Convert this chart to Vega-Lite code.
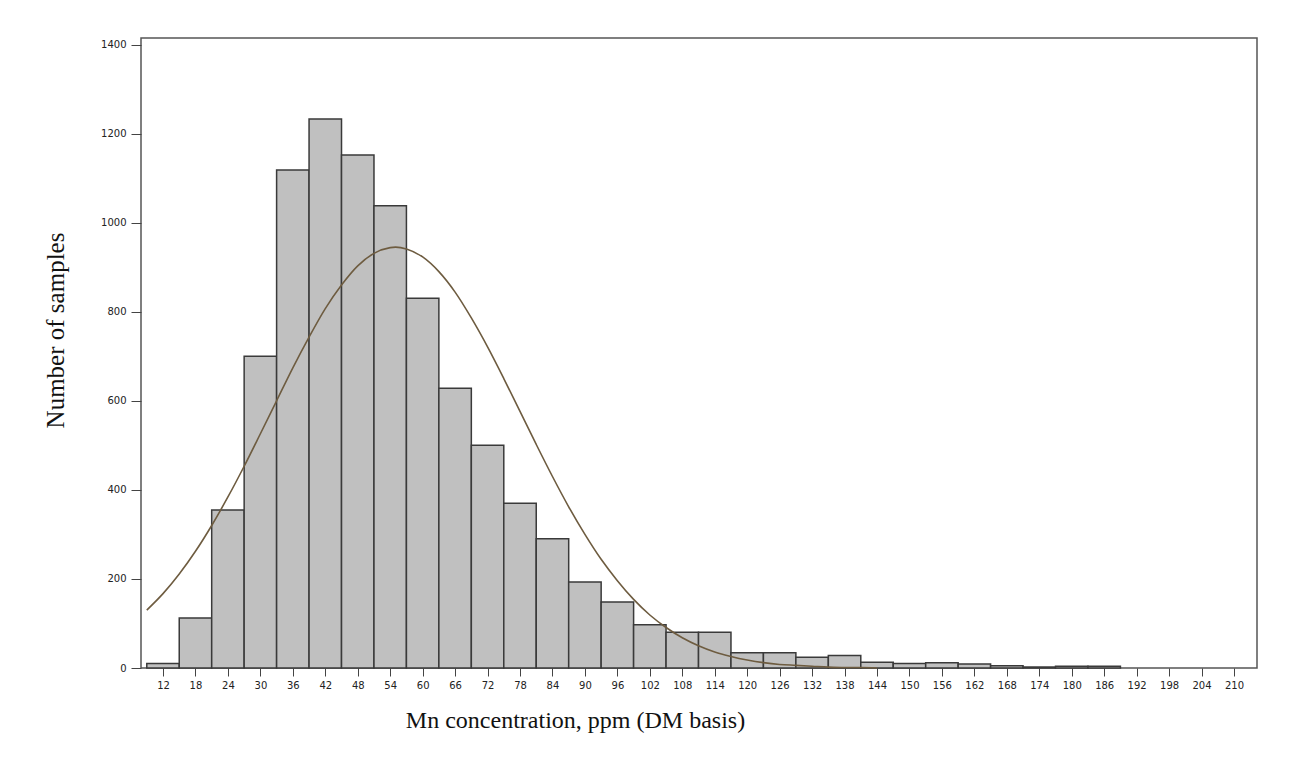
{
  "$schema": "https://vega.github.io/schema/vega-lite/v6.json",
  "width": 1116,
  "height": 630,
  "autosize": {"type": "none"},
  "padding": {"left": 141, "top": 38, "right": 46, "bottom": 98},
  "background": "white",
  "config": {
    "view": {"stroke": "#555555", "strokeWidth": 1.5},
    "axis": {
      "labelFont": "DejaVu Sans",
      "labelFontSize": 10,
      "labelColor": "#222222",
      "labelOverlap": false,
      "labelSeparation": 0,
      "tickColor": "#444444",
      "domainColor": "#555555",
      "grid": false,
      "titleFont": "Liberation Serif",
      "titleFontWeight": "normal",
      "titleColor": "#111111"
    }
  },
  "datasets": {
    "bars": [
      {"bin_start": 9, "bin_end": 15, "count": 10},
      {"bin_start": 15, "bin_end": 21, "count": 112},
      {"bin_start": 21, "bin_end": 27, "count": 355},
      {"bin_start": 27, "bin_end": 33, "count": 700},
      {"bin_start": 33, "bin_end": 39, "count": 1118},
      {"bin_start": 39, "bin_end": 45, "count": 1233},
      {"bin_start": 45, "bin_end": 51, "count": 1152},
      {"bin_start": 51, "bin_end": 57, "count": 1038},
      {"bin_start": 57, "bin_end": 63, "count": 830},
      {"bin_start": 63, "bin_end": 69, "count": 628},
      {"bin_start": 69, "bin_end": 75, "count": 500},
      {"bin_start": 75, "bin_end": 81, "count": 370},
      {"bin_start": 81, "bin_end": 87, "count": 290},
      {"bin_start": 87, "bin_end": 93, "count": 193},
      {"bin_start": 93, "bin_end": 99, "count": 148},
      {"bin_start": 99, "bin_end": 105, "count": 97},
      {"bin_start": 105, "bin_end": 111, "count": 80},
      {"bin_start": 111, "bin_end": 117, "count": 80},
      {"bin_start": 117, "bin_end": 123, "count": 34},
      {"bin_start": 123, "bin_end": 129, "count": 34},
      {"bin_start": 129, "bin_end": 135, "count": 24},
      {"bin_start": 135, "bin_end": 141, "count": 28},
      {"bin_start": 141, "bin_end": 147, "count": 13},
      {"bin_start": 147, "bin_end": 153, "count": 10},
      {"bin_start": 153, "bin_end": 159, "count": 12},
      {"bin_start": 159, "bin_end": 165, "count": 9},
      {"bin_start": 165, "bin_end": 171, "count": 5},
      {"bin_start": 171, "bin_end": 177, "count": 2},
      {"bin_start": 177, "bin_end": 183, "count": 4},
      {"bin_start": 183, "bin_end": 189, "count": 4}
    ],
    "curve": [
      {"x": 9, "y": 130}, {"x": 12, "y": 167}, {"x": 15, "y": 211}, {"x": 18, "y": 262},
      {"x": 21, "y": 320}, {"x": 24, "y": 384}, {"x": 27, "y": 453}, {"x": 30, "y": 526},
      {"x": 33, "y": 600}, {"x": 36, "y": 674}, {"x": 39, "y": 743}, {"x": 42, "y": 807},
      {"x": 45, "y": 860}, {"x": 48, "y": 903}, {"x": 51, "y": 931}, {"x": 54, "y": 944},
      {"x": 55, "y": 945}, {"x": 57, "y": 941}, {"x": 60, "y": 923}, {"x": 63, "y": 890},
      {"x": 66, "y": 844}, {"x": 69, "y": 786}, {"x": 72, "y": 721}, {"x": 75, "y": 650},
      {"x": 78, "y": 576}, {"x": 81, "y": 502}, {"x": 84, "y": 430}, {"x": 87, "y": 362},
      {"x": 90, "y": 300}, {"x": 93, "y": 244}, {"x": 96, "y": 196}, {"x": 99, "y": 154},
      {"x": 102, "y": 119}, {"x": 105, "y": 91}, {"x": 108, "y": 68}, {"x": 111, "y": 50},
      {"x": 114, "y": 36}, {"x": 117, "y": 26}, {"x": 120, "y": 18}, {"x": 123, "y": 12},
      {"x": 126, "y": 8}, {"x": 129, "y": 6}, {"x": 132, "y": 4}, {"x": 135, "y": 2},
      {"x": 138, "y": 1}, {"x": 141, "y": 1}, {"x": 144, "y": 0}
    ]
  },
  "layer": [
    {
      "data": {"name": "bars"},
      "mark": {"type": "rect", "fill": "#c0c0c0", "stroke": "#3a3a3a", "strokeWidth": 1.5},
      "encoding": {
        "x": {
          "field": "bin_start",
          "type": "quantitative",
          "scale": {"domain": [7.93, 214.25], "nice": false, "zero": false},
          "axis": {
            "values": [12, 18, 24, 30, 36, 42, 48, 54, 60, 66, 72, 78, 84, 90, 96, 102, 108, 114, 120, 126, 132, 138, 144, 150, 156, 162, 168, 174, 180, 186, 192, 198, 204, 210],
            "format": "d",
            "tickSize": 8,
            "labelPadding": 4,
            "labelFlush": false,
            "labelBound": false,
            "labelOverlap": false,
            "labelSeparation": 0,
            "domain": false,
            "title": "Mn concentration, ppm (DM basis)",
            "titleFontSize": 24,
            "titleAlign": "center",
            "titleAnchor": null,
            "titleX": 434,
            "titleY": 59,
            "titleBaseline": "alphabetic"
          }
        },
        "x2": {"field": "bin_end"},
        "y": {
          "field": "count",
          "type": "quantitative",
          "scale": {"domain": [0, 1414.6], "nice": false},
          "axis": {
            "values": [0, 200, 400, 600, 800, 1000, 1200, 1400],
            "format": "d",
            "tickSize": 10,
            "labelPadding": 5,
            "labelFlush": false,
            "labelOverlap": false,
            "domain": false,
            "title": "Number of samples",
            "titleFontSize": 25,
            "titleAngle": -90,
            "titleAlign": "center",
            "titleAnchor": null,
            "titleX": -78,
            "titleY": 292,
            "titleBaseline": "alphabetic"
          }
        },
        "y2": {"datum": 0}
      }
    },
    {
      "data": {"name": "curve"},
      "mark": {"type": "line", "color": "#6e5c40", "strokeWidth": 1.6, "interpolate": "monotone"},
      "encoding": {
        "x": {
          "field": "x",
          "type": "quantitative",
          "axis": {
            "values": [12, 18, 24, 30, 36, 42, 48, 54, 60, 66, 72, 78, 84, 90, 96, 102, 108, 114, 120, 126, 132, 138, 144, 150, 156, 162, 168, 174, 180, 186, 192, 198, 204, 210],
            "format": "d",
            "tickSize": 8,
            "labelPadding": 4,
            "labelFlush": false,
            "labelBound": false,
            "labelOverlap": false,
            "labelSeparation": 0,
            "domain": false,
            "title": "Mn concentration, ppm (DM basis)",
            "titleFontSize": 24,
            "titleAlign": "center",
            "titleAnchor": null,
            "titleX": 434,
            "titleY": 59,
            "titleBaseline": "alphabetic"
          }
        },
        "y": {"field": "y", "type": "quantitative"}
      }
    }
  ]
}
